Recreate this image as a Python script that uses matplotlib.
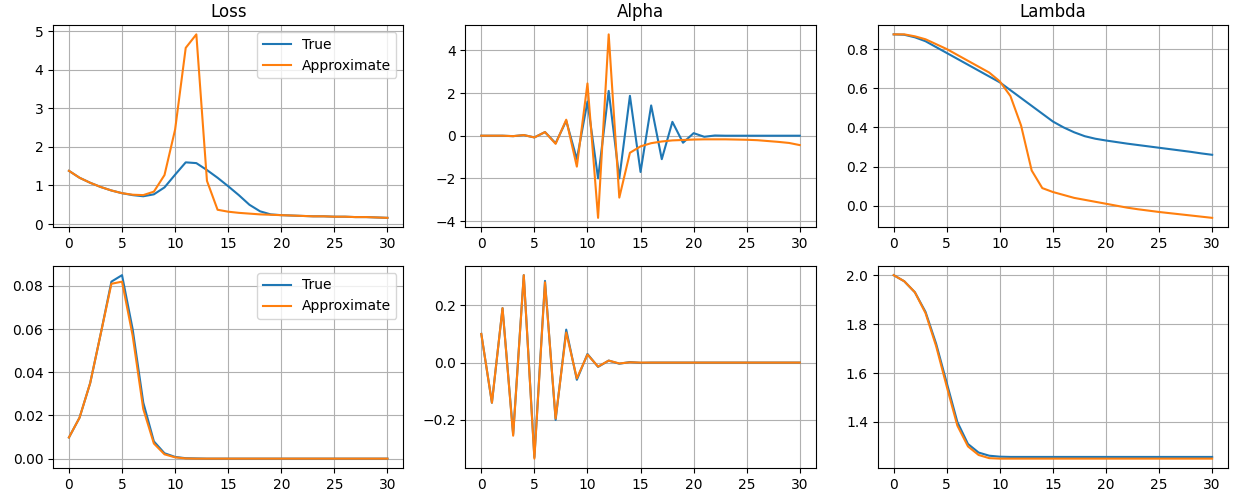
import matplotlib
matplotlib.use('Agg')
import matplotlib.pyplot as plt

steps = list(range(31))

# top row: loss, alpha, lambda
loss_true = [1.38, 1.2, 1.07, 0.96, 0.87, 0.8, 0.75, 0.72, 0.77, 0.95, 1.28, 1.6, 1.58, 1.4, 1.2, 0.98,
             0.75, 0.5, 0.33, 0.25, 0.23, 0.22, 0.21, 0.2, 0.2, 0.19, 0.19, 0.18, 0.18, 0.17, 0.16]
loss_approx = [1.38, 1.2, 1.07, 0.96, 0.87, 0.8, 0.76, 0.75, 0.84, 1.27, 2.45, 4.57, 4.92, 1.12, 0.37, 0.32,
               0.29, 0.27, 0.25, 0.24, 0.23, 0.22, 0.21, 0.2, 0.2, 0.19, 0.19, 0.18, 0.18, 0.17, 0.16]

alpha_true = [0, 0, 0, -0.02, 0.03, -0.08, 0.17, -0.35, 0.7, -1.1, 1.6, -2.0, 2.1, -2.0, 1.87, -1.7,
              1.42, -1.1, 0.65, -0.33, 0.12, -0.05, 0.01, 0, 0, 0, 0, 0, 0, 0, 0]
alpha_approx = [0, 0, 0, -0.02, 0.03, -0.08, 0.17, -0.38, 0.75, -1.45, 2.45, -3.85, 4.75, -2.9, -0.8, -0.5,
                -0.35, -0.27, -0.22, -0.2, -0.18, -0.17, -0.17, -0.17, -0.18, -0.19, -0.21, -0.25, -0.29, -0.34, -0.44]

lam_true = [0.875, 0.873, 0.86, 0.84, 0.81, 0.78, 0.75, 0.72, 0.69, 0.66, 0.63, 0.59, 0.55, 0.51, 0.47, 0.43,
            0.40, 0.375, 0.355, 0.342, 0.333, 0.325, 0.317, 0.31, 0.303, 0.296, 0.289, 0.282, 0.275, 0.267, 0.26]
lam_approx = [0.875, 0.875, 0.865, 0.85, 0.825, 0.8, 0.77, 0.74, 0.71, 0.68, 0.635, 0.56, 0.41, 0.18, 0.09, 0.07,
              0.055, 0.04, 0.03, 0.02, 0.01, 0.0, -0.01, -0.018, -0.025, -0.032, -0.038, -0.044, -0.05, -0.056, -0.062]

# bottom row
loss2_true = [0.0098, 0.019, 0.035, 0.058, 0.082, 0.085, 0.06, 0.026, 0.008, 0.0025, 0.0008, 0.0002, 0.0001] + [0.0] * 18
loss2_approx = [0.0098, 0.019, 0.035, 0.058, 0.081, 0.082, 0.057, 0.023, 0.007, 0.002, 0.0006, 0.0001] + [0.0] * 19

alpha2_true = [0.1, -0.14, 0.19, -0.25, 0.305, -0.33, 0.285, -0.2, 0.115, -0.06, 0.03, -0.015, 0.007, -0.004,
               0.002, -0.001] + [0.0] * 15
alpha2_approx = [0.1, -0.14, 0.19, -0.255, 0.305, -0.335, 0.28, -0.195, 0.105, -0.055, 0.028, -0.014, 0.007,
                 -0.003, 0.001] + [0.0] * 16

lam2_true = [2.0, 1.975, 1.93, 1.85, 1.72, 1.56, 1.40, 1.31, 1.275, 1.262, 1.258] + [1.257] * 20
lam2_approx = [2.0, 1.975, 1.93, 1.845, 1.71, 1.545, 1.385, 1.30, 1.265, 1.252, 1.25] + [1.25] * 20

fig, axes = plt.subplots(2, 3, figsize=(12.33, 4.94), dpi=100)

rows = [
    [(loss_true, loss_approx), (alpha_true, alpha_approx), (lam_true, lam_approx)],
    [(loss2_true, loss2_approx), (alpha2_true, alpha2_approx), (lam2_true, lam2_approx)],
]
titles = ["Loss", "Alpha", "Lambda"]

for r in range(2):
    for c in range(3):
        ax = axes[r, c]
        t, a = rows[r][c]
        ax.plot(steps, t, label='True')
        ax.plot(steps, a, label='Approximate')
        ax.grid(True)
        if r == 0:
            ax.set_title(titles[c])
        if c == 0:
            ax.legend(loc='upper right')

fig.subplots_adjust(left=0.043, right=0.996, top=0.949, bottom=0.053, wspace=0.177, hspace=0.193)
fig.savefig('out.png')
